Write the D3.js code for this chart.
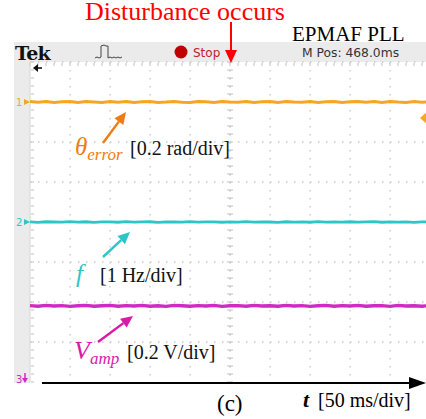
<!DOCTYPE html>
<html>
<head>
<meta charset="utf-8">
<script src="https://cdn.jsdelivr.net/npm/d3@7"></script>
<style>
  body { margin: 0; background: #fff; }
  svg { display: block; }
</style>
</head>
<body>
<svg width="426" height="419"></svg>
<script>
// scope settings: 10 divisions of 50 ms, 8 vertical divisions
var timeDivs = [0, 50, 100, 150, 200, 250, 300, 350, 400, 450, 500]
var vertDivs = [-4, -3, -2, -1, 0, 1, 2, 3, 4]

// channel offsets in divisions and scales per division
var chOffset = [3, 0, -7]
var chScale = [0.2, 1, 0.2]

// values, one every 10 ms over the 500 ms record
var thetaErr = [0.002, -0.001, 0.003, -0.002, 0.001, 0.003, -0.003, 0.002, 0.000, -0.002, 0.003, -0.001, 0.002, -0.003, 0.001, 0.002, -0.002, 0.000, 0.003, -0.001, -0.003, 0.002, 0.001, -0.002, 0.003, 0.000, -0.001, 0.002, -0.003, 0.001, 0.003, -0.002, 0.002, 0.000, -0.001, 0.003, -0.002, 0.001, 0.002, -0.003, 0.001, 0.003, -0.001, 0.002, -0.002, 0.003, 0.000, -0.002, 0.002, -0.001, 0.001]
var freqDev = [0.005, -0.008, 0.006, 0.000, -0.005, 0.008, -0.004, 0.006, -0.007, 0.002, 0.005, -0.006, 0.008, -0.003, 0.001, 0.006, -0.008, 0.004, 0.000, -0.005, 0.007, -0.004, 0.005, 0.001, -0.006, 0.004, -0.002, 0.007, -0.005, 0.003, 0.000, -0.007, 0.006, -0.003, 0.004, -0.006, 0.008, -0.002, 0.003, -0.005, 0.006, -0.004, 0.002, 0.007, -0.006, 0.003, -0.001, 0.005, -0.007, 0.004, 0.002]
var vAmp = [0.982, 0.979, 0.983, 0.980, 0.982, 0.978, 0.981, 0.983, 0.979, 0.981, 0.983, 0.979, 0.982, 0.980, 0.983, 0.979, 0.981, 0.978, 0.983, 0.981, 0.979, 0.982, 0.980, 0.983, 0.978, 0.981, 0.982, 0.979, 0.983, 0.980, 0.981, 0.979, 0.983, 0.980, 0.982, 0.978, 0.981, 0.983, 0.979, 0.982, 0.980, 0.983, 0.979, 0.981, 0.982, 0.978, 0.983, 0.980, 0.981, 0.979, 0.982]

var svg = d3.select("svg")

var x = d3.scaleLinear().domain([0, 500]).range([30, 430])
var y = d3.scaleLinear().domain([4, -4]).range([62, 382])

var gridCol = "#cbcbcb"
var serif = "Liberation Serif, Times New Roman, serif"

// frame of the scope screen
svg.append("rect").attr("x", 14).attr("y", 42).attr("width", 412).attr("height", 20).attr("fill", "#ebebeb")
svg.append("rect").attr("x", 14).attr("y", 42).attr("width", 16).attr("height", 341).attr("fill", "#ebebeb")

var grid = svg.append("g")

// vertical grid lines
grid.selectAll(".vg")
  .data(timeDivs.slice(1, -1))
  .enter().append("line")
    .attr("x1", function(d) { return x(d) }).attr("x2", function(d) { return x(d) })
    .attr("y1", y(4)).attr("y2", y(-4))
    .attr("stroke", gridCol)
    .attr("stroke-width", function(d) { return d == 250 ? 2 : 1.3 })
    .attr("stroke-dasharray", "1.5,6.5")

// horizontal grid lines
grid.selectAll(".hg")
  .data(vertDivs.slice(1))
  .enter().append("line")
    .attr("x1", x(0)).attr("x2", x(500))
    .attr("y1", function(d) { return y(d) }).attr("y2", function(d) { return y(d) })
    .attr("stroke", gridCol)
    .attr("stroke-width", 1.3)
    .attr("stroke-dasharray", "1.5,6.5")

// minor ticks on the center vertical and on the top/left edges
var minor = d3.range(-4, 4.01, 0.2)
grid.selectAll(".cv")
  .data(minor)
  .enter().append("line")
    .attr("x1", x(250) - 3).attr("x2", x(250) + 3)
    .attr("y1", function(d) { return y(d) }).attr("y2", function(d) { return y(d) })
    .attr("stroke", gridCol).attr("stroke-width", 1.2)
grid.selectAll(".lv")
  .data(minor)
  .enter().append("line")
    .attr("x1", x(0) + 1).attr("x2", x(0) + 4)
    .attr("y1", function(d) { return y(d) }).attr("y2", function(d) { return y(d) })
    .attr("stroke", gridCol).attr("stroke-width", 1.2)
grid.selectAll(".th")
  .data(d3.range(0, 500.1, 10))
  .enter().append("line")
    .attr("x1", function(d) { return x(d) }).attr("x2", function(d) { return x(d) })
    .attr("y1", y(4) + 1).attr("y2", y(4) + 4)
    .attr("stroke", gridCol).attr("stroke-width", 1.2)
grid.append("line")
  .attr("x1", x(0)).attr("x2", x(0)).attr("y1", y(4)).attr("y2", y(-4))
  .attr("stroke", "#d6d6d6").attr("stroke-width", 1)

// traces
var traces = [
  {vals: thetaErr, ch: 0, color: "#f7a523", w: 3},
  {vals: freqDev, ch: 1, color: "#2cc6c8", w: 2.8},
  {vals: vAmp, ch: 2, color: "#cf2bc4", w: 3.4}
]
traces.forEach(function(tr) {
  var n = tr.vals.length
  var line = d3.line()
    .x(function(d, i) { return x(i * 500 / (n - 1)) })
    .y(function(d) { return y(d / chScale[tr.ch] + chOffset[tr.ch]) })
  svg.append("path")
    .datum(tr.vals)
    .attr("d", line)
    .attr("fill", "none")
    .attr("stroke", tr.color)
    .attr("stroke-width", tr.w)
})

// channel markers on the left
function chMarker(label, yy, color, down) {
  svg.append("text").attr("x", 16).attr("y", yy + 4).text(label)
    .attr("font-family", "DejaVu Sans").attr("font-size", 10).attr("fill", color)
  if (down) {
    svg.append("path").attr("d", "M22," + (yy - 1) + "L28," + (yy - 1) + "L25," + (yy + 4) + "Z").attr("fill", color)
    svg.append("line").attr("x1", 25).attr("x2", 25).attr("y1", yy - 6).attr("y2", yy).attr("stroke", color).attr("stroke-width", 1.5)
  } else {
    svg.append("path").attr("d", "M24," + (yy - 3) + "L30," + yy + "L24," + (yy + 3) + "Z").attr("fill", color)
  }
}
chMarker("1", y(chOffset[0]), "#f7a523", false)
chMarker("2", y(chOffset[1]), "#2cc6c8", false)
chMarker("3", 379, "#cf2bc4", true)

// trigger level marker on the right edge
svg.append("path").attr("d", "M420,118L427,112L427,124Z").attr("fill", "#f7a523")
// trigger position arrow at top left
svg.append("path").attr("d", "M33,68L38,64L38,72Z").attr("fill", "#111")
svg.append("line").attr("x1", 36).attr("x2", 42).attr("y1", 68).attr("y2", 68).attr("stroke", "#111").attr("stroke-width", 1.6)

// top status bar
svg.append("text").attr("x", 15).attr("y", 60).text("Tek")
  .attr("font-family", "DejaVu Serif").attr("font-weight", "bold").attr("font-size", 19)
  .attr("letter-spacing", -0.8).attr("fill", "#111")
svg.append("path")
  .attr("d", "M95,58L97,57L99,58L101,57L101,46L104,45L106,46L108,46L108,58L110,57L112,58L114,57L116,58L118,57L120,58L122,57")
  .attr("fill", "none").attr("stroke", "#444").attr("stroke-width", 1)
svg.append("circle").attr("cx", 181).attr("cy", 52).attr("r", 6.5).attr("fill", "#c00000")
svg.append("text").attr("x", 193).attr("y", 57).text("Stop")
  .attr("font-family", "DejaVu Sans").attr("font-size", 12).attr("fill", "#c0202a")
svg.append("text").attr("x", 302).attr("y", 57).text("M Pos: 468.0ms")
  .attr("font-family", "DejaVu Sans").attr("font-size", 12.3).attr("fill", "#333")

// title annotations
svg.append("text").attr("x", 85).attr("y", 19.5).text("Disturbance occurs")
  .attr("font-family", serif).attr("font-size", 26).attr("fill", "#ff0000")
svg.append("line").attr("x1", x(250) + 1).attr("x2", x(250) + 1).attr("y1", 22).attr("y2", 52)
  .attr("stroke", "#ff0000").attr("stroke-width", 2)
svg.append("path").attr("d", "M225,50L237,50L231,63Z").attr("fill", "#ff0000")
svg.append("text").attr("x", 292).attr("y", 41).text("EPMAF PLL")
  .attr("font-family", serif).attr("font-size", 21).attr("fill", "#000")

// arrows pointing to the traces
function arrow(x1, y1, x2, y2, color) {
  var a = Math.atan2(y2 - y1, x2 - x1), L = 12, W = 5.5
  var bx = x2 - L * Math.cos(a), by = y2 - L * Math.sin(a)
  svg.append("line").attr("x1", x1).attr("y1", y1).attr("x2", bx).attr("y2", by)
    .attr("stroke", color).attr("stroke-width", 2.4)
  svg.append("path")
    .attr("d", "M" + x2 + "," + y2 + "L" + (bx + W * Math.sin(a)) + "," + (by - W * Math.cos(a)) +
      "L" + (bx - W * Math.sin(a)) + "," + (by + W * Math.cos(a)) + "Z")
    .attr("fill", color)
}
arrow(103, 143, 126, 112, "#ef7b12")
arrow(103, 257, 130, 232, "#2cc6c8")
arrow(98, 342, 133, 316, "#d81aa8")

// labels
function label(xx, yy, sym, symSize, sub, unit, color, unitX) {
  var t = svg.append("text").attr("x", xx).attr("y", yy)
    .attr("font-family", serif).attr("font-size", symSize)
  t.append("tspan").text(sym).attr("font-style", "italic").attr("fill", color)
  if (sub) t.append("tspan").text(sub).attr("font-style", "italic").attr("fill", color)
    .attr("font-size", 17).attr("dy", 5)
  svg.append("text").attr("x", unitX).attr("y", yy).text(unit)
    .attr("font-family", serif).attr("font-size", 20).attr("fill", "#111")
}
label(75, 155, "\u03b8", 25, "error", "[0.2 rad/div]", "#ef7b12", 130)
label(76, 282, "f", 25, null, "[1 Hz/div]", "#2cc6c8", 100)
label(74, 359, "V", 26, "amp", "[0.2 V/div]", "#d81aa8", 127)

// time axis arrow
svg.append("line").attr("x1", 42).attr("x2", 412).attr("y1", 383).attr("y2", 383)
  .attr("stroke", "#000").attr("stroke-width", 2)
svg.append("path").attr("d", "M426,383L409,377L409,389Z").attr("fill", "#000")

svg.append("text").attr("x", 217).attr("y", 411).text("(c)")
  .attr("font-family", serif).attr("font-size", 23).attr("fill", "#000")
var tl = svg.append("text").attr("x", 303).attr("y", 407)
  .attr("font-family", serif).attr("font-size", 20).attr("fill", "#000")
tl.append("tspan").text("t").attr("font-style", "italic").attr("font-weight", "bold").attr("font-size", 22)
tl.append("tspan").text("[50 ms/div]").attr("x", 318)
</script>
</body>
</html>
